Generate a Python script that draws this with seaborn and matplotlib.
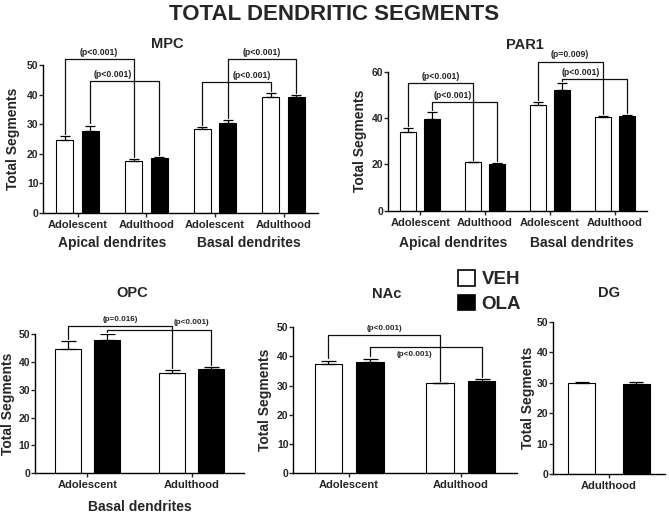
import matplotlib
matplotlib.use('Agg')
import matplotlib.pyplot as plt
from matplotlib.patches import Patch
import numpy as np
import pandas as pd
import seaborn as sns

# ---- data (mean, SEM) ----
treatments = ['VEH', 'OLA']

mpc_groups = ['Apical Adolescent', 'Apical Adulthood', 'Basal Adolescent', 'Basal Adulthood']
mpc_ticks = ['Adolescent', 'Adulthood', 'Adolescent', 'Adulthood']
mpc_veh = [24.6, 17.5, 28.2, 39.3]
mpc_veh_err = [1.4, 0.7, 0.9, 1.1]
mpc_ola = [27.7, 18.6, 30.5, 39.1]
mpc_ola_err = [1.8, 0.2, 0.9, 0.6]

par1_groups = mpc_groups
par1_ticks = mpc_ticks
par1_veh = [34.1, 20.9, 45.6, 40.5]
par1_veh_err = [1.6, 0.3, 1.5, 0.3]
par1_ola = [39.7, 20.1, 52.1, 40.8]
par1_ola_err = [2.7, 0.3, 2.9, 0.5]

opc_groups = ['Adolescent', 'Adulthood']
opc_veh = [44.5, 36.1]
opc_veh_err = [3.0, 0.9]
opc_ola = [47.8, 37.6]
opc_ola_err = [2.2, 0.5]

nac_groups = ['Adolescent', 'Adulthood']
nac_veh = [37.2, 30.7]
nac_veh_err = [1.3, 0.2]
nac_ola = [38.1, 31.7]
nac_ola_err = [1.1, 0.4]

dg_groups = ['Adulthood']
dg_veh = [29.9]
dg_veh_err = [0.5]
dg_ola = [29.7]
dg_ola_err = [0.4]

# significance brackets: (bar from, bar to, height, text)
mpc_p = [(0, 2, 52.0, '(p<0.001)'), (1, 3, 44.6, '(p<0.001)'),
         (4, 6, 44.2, '(p<0.001)'), (5, 7, 52.0, '(p<0.001)')]
par1_p = [(0, 2, 55.1, '(p<0.001)'), (1, 3, 46.8, '(p<0.001)'),
          (4, 6, 64.4, '(p=0.009)'), (5, 7, 56.9, '(p<0.001)')]
opc_p = [(0, 2, 52.9, '(p=0.016)'), (1, 3, 51.6, '(p<0.001)')]
nac_p = [(0, 2, 47.3, '(p<0.001)'), (1, 3, 43.3, '(p<0.001)')]

W, H = 669, 514

sns.set_style('ticks')
plt.rcParams['font.family'] = ['Liberation Sans', 'DejaVu Sans']
plt.rcParams['font.weight'] = 'bold'
plt.rcParams['axes.labelweight'] = 'bold'
plt.rcParams['axes.linewidth'] = 1.0
plt.rcParams['axes.edgecolor'] = 'black'


def make_df(groups, veh, ola):
    rows = []
    for g, v, o in zip(groups, veh, ola):
        rows.append({'group': g, 'treatment': 'VEH', 'value': v})
        rows.append({'group': g, 'treatment': 'OLA', 'value': o})
    return pd.DataFrame(rows)


def panel(rect, title, title_pos, groups, ticks, veh, veh_err, ola, ola_err,
          ymax, ystep, width=0.74, gap=0.33, capsize=3.8, ylab_px=22):
    ax = fig.add_axes(rect)
    df = make_df(groups, veh, ola)
    sns.barplot(data=df, x='group', y='value', hue='treatment', order=groups,
                hue_order=treatments, palette={'VEH': 'white', 'OLA': 'black'},
                edgecolor='black', linewidth=0.8, errorbar=None, legend=False,
                width=width, gap=gap, ax=ax)
    bars = sorted(ax.patches, key=lambda p: p.get_x())
    xs = np.array([p.get_x() + p.get_width() / 2 for p in bars])
    hs = np.array([p.get_height() for p in bars])
    errs = np.ravel(np.column_stack([veh_err, ola_err]))
    ax.errorbar(xs, hs, yerr=[np.zeros_like(errs), errs], fmt='none',
                ecolor='black', elinewidth=0.9, capsize=capsize, capthick=0.9)
    n = len(groups)
    ax.set_xlim(-0.5, n - 0.5)
    ax.set_ylim(0, ymax)
    ax.set_yticks(np.arange(0, ymax + 1, ystep))
    ax.set_xticks(range(n), labels=ticks)
    ax.set_xlabel('')
    ax.set_ylabel('Total Segments', fontsize=10, fontweight='bold')
    ax.yaxis.set_label_coords(-ylab_px / (rect[2] * W), 0.5)
    ax.tick_params(axis='x', length=3, width=1, labelsize=8, pad=2)
    ax.tick_params(axis='y', length=3, width=1, labelsize=7.5, pad=0.5)
    for lab in ax.get_xticklabels() + ax.get_yticklabels():
        lab.set_fontweight('bold')
    sns.despine(ax=ax)
    ax.annotate(title, xy=(title_pos[0], 1), xycoords='axes fraction',
                xytext=(0, title_pos[1]), textcoords='offset points',
                ha='center', va='center', fontsize=10.5, fontweight='bold')
    return ax, xs, hs + errs


def brackets(ax, xs, tops, specs, fracs, sides, ymax, fs):
    pad = 0.015 * ymax
    for (i, j, y, txt), frac, side in zip(specs, fracs, sides):
        ax.plot([xs[i], xs[i], xs[j], xs[j]], [tops[i] + pad, y, y, tops[j] + pad],
                color='#111111', lw=0.9, clip_on=False)
        xm = xs[i] + frac * (xs[j] - xs[i])
        off = 4.8 if side == 'above' else -6.0
        ax.annotate(txt, xy=(xm, y), xytext=(0, off), textcoords='offset points',
                    ha='center', va='center', fontsize=fs, fontweight='bold',
                    annotation_clip=False)


def group_label(ax, x, text, off):
    ax.annotate(text, xy=(x, 0), xycoords=('data', 'axes fraction'),
                xytext=(0, -off), textcoords='offset points', ha='center',
                va='center', fontsize=10, fontweight='bold', annotation_clip=False)


fig = plt.figure(figsize=(W / 100, H / 100), dpi=100)

fig.text(334 / W, 1 - 14 / H, 'TOTAL DENDRITIC SEGMENTS', ha='center',
         va='center', fontsize=16, weight='bold')

# MPC
ax, xs, tops = panel([43.3 / W, 1 - 212.7 / H, 274.7 / W, 147.7 / H], 'MPC', (0.45, 15),
                     mpc_groups, mpc_ticks, mpc_veh, mpc_veh_err, mpc_ola, mpc_ola_err,
                     50, 10, ylab_px=23)
brackets(ax, xs, tops, mpc_p, [0.5, 0.32, 0.72, 0.5], ['above'] * 4, 50, 6.3)
group_label(ax, 0.5, 'Apical dendrites', 21.8)
group_label(ax, 2.5, 'Basal dendrites', 21.8)

# PAR1
ax, xs, tops = panel([388 / W, 1 - 210.7 / H, 259 / W, 139 / H], 'PAR1', (0.529, 19.2),
                     par1_groups, par1_ticks, par1_veh, par1_veh_err, par1_ola, par1_ola_err,
                     60, 20, ylab_px=21)
brackets(ax, xs, tops, par1_p, [0.5, 0.31, 0.5, 0.3], ['above'] * 4, 60, 6.3)
group_label(ax, 0.5, 'Apical dendrites', 23.5)
group_label(ax, 2.5, 'Basal dendrites', 23.5)

# OPC
ax, xs, tops = panel([35 / W, 1 - 473.3 / H, 209 / W, 139.3 / H], 'OPC', (0.464, 29.5),
                     opc_groups, opc_groups, opc_veh, opc_veh_err, opc_ola, opc_ola_err,
                     50, 10, capsize=5.4, ylab_px=20)
brackets(ax, xs, tops, opc_p, [0.5, 0.81], ['above'] * 2, 50, 5.8)
group_label(ax, 0.5, 'Basal dendrites', 24.3)

# NAc
ax, xs, tops = panel([293.3 / W, 1 - 473.3 / H, 223.4 / W, 146.3 / H], 'NAc', (0.419, 23.7),
                     nac_groups, nac_groups, nac_veh, nac_veh_err, nac_ola, nac_ola_err,
                     50, 10, capsize=5.4, ylab_px=21.6)
brackets(ax, xs, tops, nac_p, [0.5, 0.4], ['above', 'below'], 50, 5.8)

# DG
ax, xs, tops = panel([553 / W, 1 - 474 / H, 112 / W, 152 / H], 'DG', (0.5, 20.9),
                     dg_groups, dg_groups, dg_veh, dg_veh_err, dg_ola, dg_ola_err,
                     50, 10, width=0.98, gap=0.51, capsize=5.0, ylab_px=18)

handles = [Patch(facecolor='white', edgecolor='black', linewidth=1.2, label='VEH'),
           Patch(facecolor='black', edgecolor='black', linewidth=1.2, label='OLA')]
fig.legend(handles=handles, loc='upper left', bbox_to_anchor=(458 / W, 1 - 270 / H),
           frameon=False, handlelength=0.9, handleheight=0.9,
           handletextpad=0.35, labelspacing=0.35, borderpad=0, borderaxespad=0,
           prop={'weight': 'bold', 'size': 13.5})

fig.savefig('out.png', dpi=100)
